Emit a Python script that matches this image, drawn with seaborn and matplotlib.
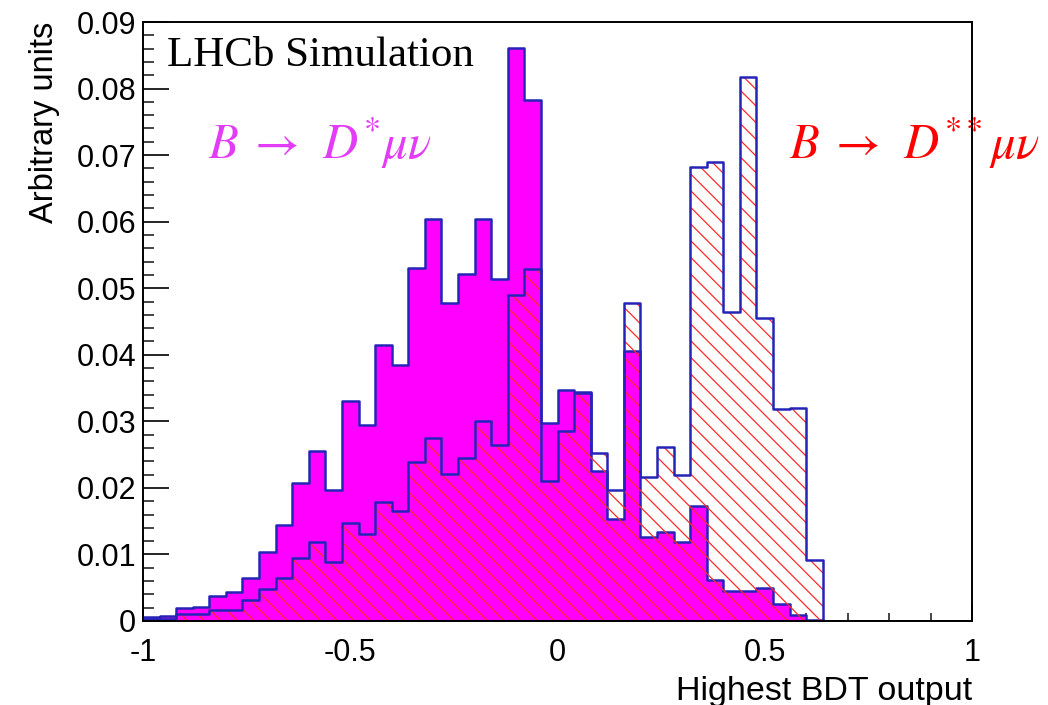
import matplotlib
matplotlib.use("Agg")
import matplotlib.pyplot as plt
import matplotlib.ticker as mticker
import pandas as pd
import seaborn as sns

# %% Data: binned BDT output, 50 bins in [-1, 1]
BIN_EDGES = [round(-1.0 + 0.04 * i, 2) for i in range(51)]

dstar_values = [
    0.00055, 0.0008, 0.0020, 0.0021, 0.0038, 0.0043, 0.0065, 0.0103, 0.0144, 0.0207,
    0.0255, 0.0197, 0.0330, 0.0295, 0.0414, 0.0384, 0.0531, 0.0604, 0.0478, 0.0521,
    0.0604, 0.0514, 0.0861, 0.0783, 0.0298, 0.0347, 0.0344, 0.0226, 0.0154, 0.0406,
    0.0126, 0.0134, 0.0119, 0.0173, 0.0062, 0.0045, 0.0045, 0.0050, 0.0026, 0.0009,
    0.0002, 0.0, 0.0, 0.0, 0.0, 0.0, 0.0, 0.0, 0.0, 0.0,
]
dstarstar_values = [
    0.00025, 0.0003, 0.0010, 0.0010, 0.0017, 0.0017, 0.0031, 0.0048, 0.0064, 0.0094,
    0.0118, 0.0088, 0.0147, 0.0130, 0.0179, 0.0166, 0.0239, 0.0275, 0.0221, 0.0245,
    0.0301, 0.0264, 0.0490, 0.0529, 0.0211, 0.0285, 0.0343, 0.0253, 0.0197, 0.0478,
    0.0216, 0.0262, 0.0220, 0.0682, 0.0689, 0.0464, 0.0818, 0.0456, 0.0319, 0.0320,
    0.0091, 0.0, 0.0, 0.0, 0.0, 0.0, 0.0, 0.0, 0.0, 0.0,
]

x_ticks = [-1.0, -0.5, 0.0, 0.5, 1.0]
y_ticks = [0.0, 0.01, 0.02, 0.03, 0.04, 0.05, 0.06, 0.07, 0.08, 0.09]

MAGENTA = "#ff00ff"
LINE_BLUE = "#2424b8"
HATCH_RED = "#ff2a2a"

df = pd.DataFrame({
    "bdt": [(lo + hi) / 2 for lo, hi in zip(BIN_EDGES[:-1], BIN_EDGES[1:])],
    "dstar": dstar_values,
    "dstarstar": dstarstar_values,
})

# %% Style
sns.set_style("ticks")
plt.rcParams["font.family"] = ["Liberation Sans", "DejaVu Sans"]
plt.rcParams["mathtext.fontset"] = "stix"
plt.rcParams["hatch.color"] = HATCH_RED
plt.rcParams["hatch.linewidth"] = 0.9
plt.rcParams["text.color"] = "black"
plt.rcParams["axes.labelcolor"] = "black"

fig = plt.figure(figsize=(10.48, 7.05), dpi=100)
ax = fig.add_axes([143 / 1048, 1 - 621 / 705, 829 / 1048, 599 / 705])

# D* : magenta filled histogram with blue outline
sns.histplot(data=df, x="bdt", weights="dstar", bins=BIN_EDGES, element="step",
             fill=True, color=MAGENTA, facecolor=MAGENTA, edgecolor="none",
             linewidth=0, alpha=1, ax=ax, zorder=1)
sns.histplot(data=df, x="bdt", weights="dstar", bins=BIN_EDGES, element="step",
             fill=False, color=LINE_BLUE, linewidth=1.8, ax=ax, zorder=2)

# D** : red hatched histogram with blue outline, drawn on top
sns.histplot(data=df, x="bdt", weights="dstarstar", bins=BIN_EDGES, element="step",
             fill=True, color=HATCH_RED, facecolor="none", edgecolor=HATCH_RED,
             linewidth=0, hatch="\\\\", ax=ax, zorder=3)
sns.histplot(data=df, x="bdt", weights="dstarstar", bins=BIN_EDGES, element="step",
             fill=False, color=LINE_BLUE, linewidth=1.8, ax=ax, zorder=4)

# %% Axes
ax.set_xlim(-1, 1)
ax.set_ylim(0, 0.09)
ax.set_xticks(x_ticks)
ax.set_yticks(y_ticks)
ax.xaxis.set_minor_locator(mticker.MultipleLocator(0.1))
ax.yaxis.set_minor_locator(mticker.MultipleLocator(0.002))
ax.xaxis.set_major_formatter(mticker.FuncFormatter(lambda v, _: f"{v:g}"))
ax.yaxis.set_major_formatter(mticker.FuncFormatter(lambda v, _: "0" if v == 0 else f"{v:.2f}"))

ax.tick_params(axis="x", which="major", direction="in", length=12, width=1.2,
               labelsize=22, pad=12, colors="black")
ax.tick_params(axis="x", which="minor", direction="in", length=6, width=1.2)
ax.tick_params(axis="y", which="major", direction="in", length=19, width=1.2,
               labelsize=22, pad=5, colors="black")
ax.tick_params(axis="y", which="minor", direction="in", length=8, width=1.2)

for spine in ax.spines.values():
    spine.set_visible(True)
    spine.set_color("black")
    spine.set_linewidth(1.4)
    spine.set_zorder(6)

ax.set_xlabel("Highest BDT output", loc="right", fontsize=24.5, labelpad=6)
ax.set_ylabel("Arbitrary units", loc="top", fontsize=23.5, labelpad=12)

# %% Annotations
ax.text(0.029, 0.9265, "LHCb Simulation", transform=ax.transAxes, color="black",
        fontsize=31, family=["Liberation Serif", "DejaVu Serif"], va="baseline", ha="left")
ax.text(0.0784, 0.7713, r"$B\;\rightarrow\;\,D^{*}\mu\nu$", transform=ax.transAxes,
        fontsize=35, color="#e23cf7", va="baseline", ha="left", clip_on=False, zorder=5)
ax.text(0.779, 0.7713, r"$B\;\rightarrow\;\,D^{**}\mu\nu$", transform=ax.transAxes,
        fontsize=35, color="#ff0000", va="baseline", ha="left", clip_on=False, zorder=5)

fig.savefig("out.png", dpi=100)
